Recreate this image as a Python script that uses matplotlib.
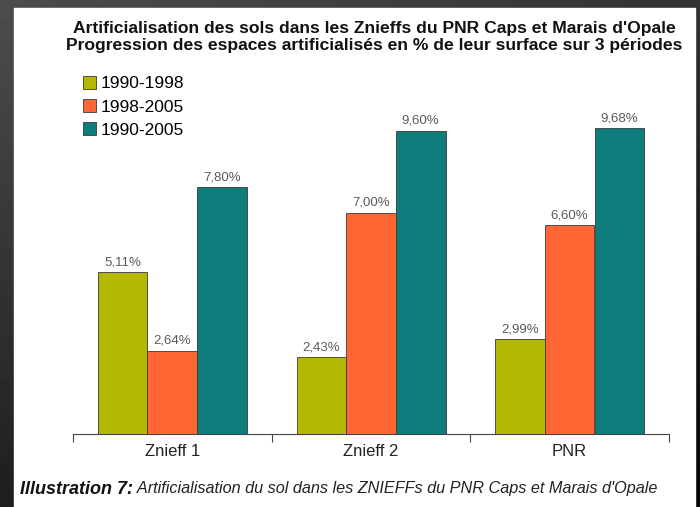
import numpy as np
import matplotlib
matplotlib.use("Agg")
import matplotlib.pyplot as plt
from matplotlib.patches import Rectangle

# data
categories = ["Znieff 1", "Znieff 2", "PNR"]
periods = ["1990-1998", "1998-2005", "1990-2005"]
v_1990_1998 = [5.11, 2.43, 2.99]
v_1998_2005 = [2.64, 7.00, 6.60]
v_1990_2005 = [7.80, 9.60, 9.68]
colors = ["#b4b800", "#ff6633", "#0e7c7b"]

title = ("Artificialisation des sols dans les Znieffs du PNR Caps et Marais d'Opale\n"
         "Progression des espaces artificialisés en % de leur surface sur 3 périodes")
caption_bold = "Illustration 7:"
caption_rest = " Artificialisation du sol dans les ZNIEFFs du PNR Caps et Marais d'Opale"

plt.rcParams["font.family"] = ["Liberation Sans", "DejaVu Sans"]

W, H = 700, 507
fig = plt.figure(figsize=(W / 100, H / 100), dpi=100)

# dark gradient frame behind the white sheet
bg = fig.add_axes([0, 0, 1, 1])
yy, xx = np.mgrid[0:1:100j, 0:1:100j]
grad = 0.30 - 0.18 * yy - 0.10 * xx
bg.imshow(grad, cmap="gray", vmin=0, vmax=1, extent=[0, 1, 0, 1],
          aspect="auto", origin="upper")
bg.add_patch(Rectangle((14 / W, 0), (695 - 14) / W, 1 - 8 / H,
                       color="white", zorder=2))
bg.set_xlim(0, 1)
bg.set_ylim(0, 1)
bg.axis("off")

ax = fig.add_axes([73 / W, 1 - 434 / H, (669 - 73) / W, (434 - 60) / H])
ax.set_facecolor("none")

x = np.arange(len(categories))
width = 0.25
series = [v_1990_1998, v_1998_2005, v_1990_2005]
for i, (vals, col, lab) in enumerate(zip(series, colors, periods)):
    bars = ax.bar(x + (i - 1) * width, vals, width, color=col,
                  edgecolor="#3a3a3a", linewidth=0.6, label=lab, zorder=3)
    for b, v in zip(bars, vals):
        ax.text(b.get_x() + b.get_width() / 2, v + 0.12,
                f"{v:.2f}%".replace(".", ","), ha="center", va="bottom",
                fontsize=9.5, color="#5a5a5a", zorder=4,
                bbox=dict(facecolor="white", edgecolor="none", pad=0.5))

ax.set_xlim(-0.5, 2.5)
ax.set_ylim(0, 11.83)
ax.set_xticks(x)
ax.set_xticklabels(categories, fontsize=12, color="#222222")
ax.tick_params(axis="x", length=0, pad=7)
ax.set_xticks([-0.5, 0.5, 1.5, 2.5], minor=True)
ax.tick_params(axis="x", which="minor", length=6, color="#444444", width=0.8)
ax.set_yticks([])
for s in ["top", "right", "left"]:
    ax.spines[s].set_visible(False)
ax.spines["bottom"].set_color("#444444")
ax.spines["bottom"].set_linewidth(0.8)

ax.legend(loc="upper left", bbox_to_anchor=(76 / W, 1 - 69 / H),
          bbox_transform=fig.transFigure, frameon=False, fontsize=12.5,
          handlelength=0.75, handleheight=0.75, handletextpad=0.25,
          labelspacing=0.45, borderaxespad=0)

fig.text(374 / W, 1 - 37 / H, title, ha="center", va="center",
         fontsize=12.6, fontweight="bold", linespacing=1.18, color="#111111")

cap = fig.text(20 / W, 1 - 489 / H, caption_bold, ha="left", va="center",
               fontsize=13, fontweight="bold", fontstyle="italic",
               color="#111111")
fig.canvas.draw()
bb = cap.get_window_extent()
fig.text(bb.x1 / W, 1 - 489 / H, caption_rest, ha="left", va="center",
         fontsize=11.7, fontstyle="italic", color="#222222")

fig.savefig("out.png", dpi=100)
